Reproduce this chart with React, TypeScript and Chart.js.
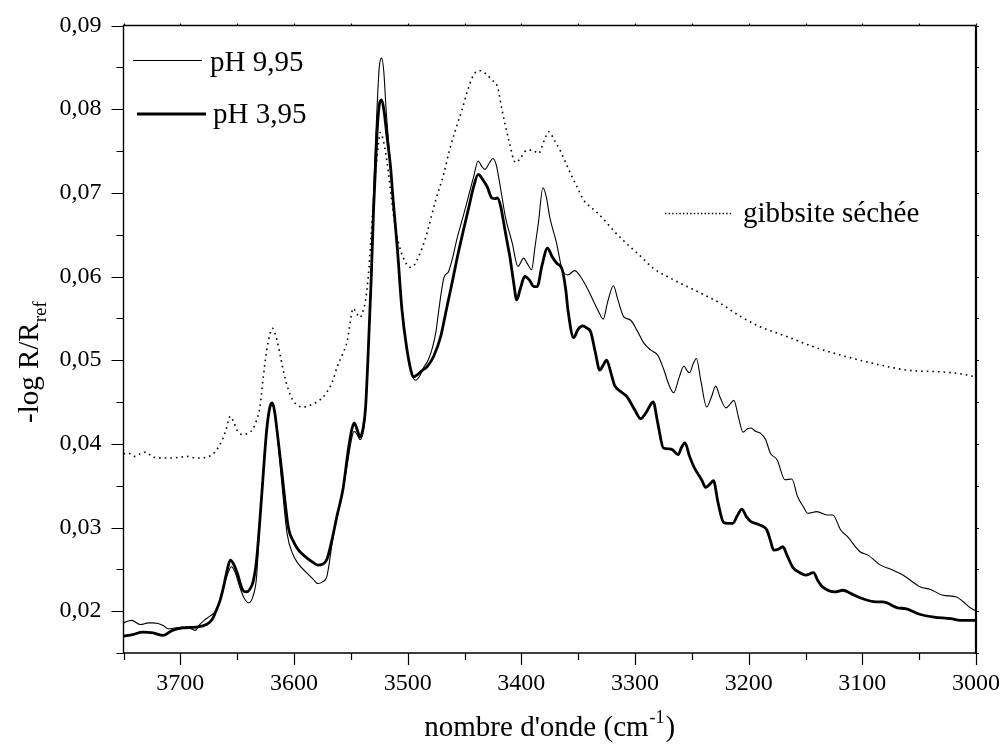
import React, { useEffect, useRef } from "react";
import { Chart, registerables } from "chart.js";

Chart.register(...registerables);

// ---------- data ----------
const thinWn = [3750, 3743, 3735, 3728, 3724, 3715, 3711, 3704, 3698, 3692, 3687, 3683, 3678, 3674, 3668, 3662, 3658, 3655, 3652, 3648, 3644, 3640, 3636, 3633, 3630, 3627, 3624, 3621, 3619, 3617, 3615, 3611, 3606, 3601, 3597, 3589, 3583, 3579, 3575, 3571, 3566, 3562, 3557, 3552, 3549, 3547, 3544, 3542, 3539, 3537, 3535, 3532, 3530, 3527, 3525, 3523, 3521, 3519, 3517, 3513, 3509, 3505, 3501, 3497, 3493, 3489, 3486, 3482, 3478, 3475, 3473, 3470, 3468, 3464, 3460, 3457, 3452, 3448, 3442, 3438, 3435, 3432, 3428, 3425, 3422, 3420, 3417, 3414, 3408, 3403, 3398, 3395, 3391, 3388, 3385, 3381, 3378, 3375, 3369, 3364, 3359, 3353, 3348, 3342, 3337, 3332, 3328, 3324, 3319, 3315, 3310, 3304, 3298, 3292, 3286, 3280, 3275, 3270, 3266, 3261, 3257, 3254, 3252, 3249, 3246, 3242, 3237, 3233, 3229, 3225, 3220, 3216, 3213, 3209, 3205, 3201, 3198, 3194, 3190, 3185, 3181, 3175, 3168, 3162, 3157, 3152, 3148, 3140, 3131, 3126, 3119, 3113, 3102, 3095, 3084, 3073, 3064, 3049, 3040, 3029, 3017, 3011, 3005, 3000];
const thinVal = [0.0186, 0.0189, 0.0184, 0.0186, 0.0186, 0.0183, 0.0179, 0.018, 0.0181, 0.018, 0.0177, 0.0184, 0.019, 0.0194, 0.0202, 0.0228, 0.0246, 0.0253, 0.0247, 0.023, 0.0216, 0.021, 0.0218, 0.024, 0.031, 0.037, 0.0417, 0.0443, 0.0447, 0.0437, 0.0415, 0.0357, 0.0292, 0.0268, 0.0258, 0.0246, 0.0238, 0.0233, 0.0235, 0.0242, 0.0285, 0.0315, 0.0345, 0.0385, 0.0408, 0.0415, 0.041, 0.0405, 0.0415, 0.044, 0.05, 0.06, 0.07, 0.08, 0.085, 0.0861, 0.0845, 0.08, 0.0765, 0.0695, 0.0635, 0.0562, 0.0516, 0.0486, 0.0476, 0.0482, 0.0491, 0.05, 0.0516, 0.0535, 0.0556, 0.0585, 0.0599, 0.0606, 0.0625, 0.0643, 0.0668, 0.0688, 0.0719, 0.0738, 0.0732, 0.0728, 0.0736, 0.0741, 0.0733, 0.0719, 0.0695, 0.0671, 0.064, 0.0612, 0.0622, 0.0616, 0.0608, 0.0635, 0.0664, 0.0706, 0.0695, 0.0671, 0.064, 0.0608, 0.0602, 0.0607, 0.06, 0.0586, 0.0572, 0.0558, 0.0549, 0.057, 0.0589, 0.0572, 0.0552, 0.0548, 0.0535, 0.052, 0.0512, 0.0506, 0.049, 0.047, 0.0461, 0.048, 0.0493, 0.0487, 0.0485, 0.0495, 0.0502, 0.0475, 0.0444, 0.0455, 0.0469, 0.0455, 0.0443, 0.0448, 0.0452, 0.0432, 0.0414, 0.0418, 0.0419, 0.0415, 0.0413, 0.0405, 0.0389, 0.0381, 0.0357, 0.0358, 0.0337, 0.0325, 0.0317, 0.0319, 0.0315, 0.0315, 0.0297, 0.0289, 0.0271, 0.0267, 0.0255, 0.0249, 0.0243, 0.0229, 0.0226, 0.0219, 0.0217, 0.0211, 0.0204, 0.02];

const thickWn = [3750, 3742, 3733, 3724, 3715, 3707, 3698, 3686, 3677, 3672, 3669, 3665, 3662, 3659, 3656, 3653, 3650, 3647, 3645, 3642, 3639, 3636, 3633, 3630, 3627, 3624, 3621, 3619, 3617, 3614, 3611, 3609, 3605, 3600, 3596, 3589, 3583, 3579, 3575, 3571, 3566, 3562, 3557, 3552, 3549, 3547, 3544, 3542, 3539, 3537, 3535, 3532, 3530, 3527, 3525, 3523, 3521, 3518, 3515, 3513, 3509, 3505, 3501, 3497, 3495, 3491, 3487, 3483, 3477, 3471, 3466, 3461, 3456, 3451, 3446, 3442, 3438, 3434, 3430, 3426, 3423, 3421, 3418, 3416, 3413, 3410, 3407, 3404, 3401, 3397, 3393, 3389, 3386, 3382, 3377, 3373, 3369, 3364, 3361, 3359, 3354, 3350, 3346, 3342, 3339, 3335, 3331, 3328, 3325, 3321, 3318, 3312, 3307, 3300, 3295, 3290, 3284, 3280, 3275, 3270, 3267, 3262, 3259, 3256, 3252, 3248, 3245, 3241, 3238, 3234, 3231, 3227, 3222, 3218, 3214, 3210, 3206, 3202, 3198, 3192, 3187, 3184, 3181, 3178, 3174, 3170, 3166, 3161, 3155, 3150, 3143, 3139, 3135, 3124, 3117, 3110, 3102, 3088, 3082, 3069, 3062, 3049, 3037, 3022, 3014, 3000];
const thickVal = [0.017, 0.0172, 0.0175, 0.0174, 0.0171, 0.0177, 0.018, 0.0181, 0.0184, 0.019, 0.0199, 0.0213, 0.0229, 0.0248, 0.0261, 0.0256, 0.0246, 0.0232, 0.0225, 0.0223, 0.0226, 0.0235, 0.026, 0.0309, 0.0365, 0.0417, 0.0445, 0.0449, 0.0438, 0.0405, 0.037, 0.0345, 0.03, 0.0282, 0.0273, 0.0264, 0.0258, 0.0255, 0.0256, 0.0262, 0.0289, 0.0315, 0.0345, 0.0395, 0.0418, 0.0425, 0.0415, 0.0408, 0.042, 0.0444, 0.05, 0.06, 0.068, 0.077, 0.0805, 0.0811, 0.08, 0.0765, 0.073, 0.0695, 0.0632, 0.056, 0.0516, 0.0487, 0.048, 0.0483, 0.0488, 0.0492, 0.0505, 0.0528, 0.056, 0.0592, 0.0625, 0.0655, 0.0684, 0.0707, 0.0722, 0.0716, 0.0707, 0.0694, 0.0693, 0.0694, 0.0683, 0.0668, 0.0645, 0.0623, 0.0595, 0.0572, 0.0585, 0.06, 0.0596, 0.0588, 0.0588, 0.0612, 0.0634, 0.0624, 0.0616, 0.0608, 0.0585, 0.056, 0.0527, 0.0537, 0.0541, 0.0538, 0.0534, 0.051, 0.0488, 0.0494, 0.05, 0.0484, 0.047, 0.0462, 0.0456, 0.044, 0.043, 0.0438, 0.045, 0.0425, 0.0395, 0.0394, 0.0393, 0.0387, 0.0396, 0.0401, 0.0385, 0.0372, 0.0365, 0.0356, 0.0348, 0.0352, 0.0356, 0.033, 0.0306, 0.0305, 0.0305, 0.0314, 0.0322, 0.0313, 0.0307, 0.0304, 0.0301, 0.0297, 0.0285, 0.0273, 0.0274, 0.0277, 0.0266, 0.0252, 0.0246, 0.0243, 0.0246, 0.0236, 0.0229, 0.0223, 0.0225, 0.0221, 0.0216, 0.0211, 0.0211, 0.0204, 0.0203, 0.0196, 0.0193, 0.0191, 0.0189, 0.0189];

const dryWn = [3750, 3746, 3740, 3734, 3730, 3724, 3709, 3700, 3694, 3686, 3677, 3672, 3668, 3663, 3660, 3656, 3653, 3650, 3645, 3640, 3636, 3633, 3630, 3627, 3624, 3621, 3619, 3617, 3615, 3612, 3609, 3605, 3601, 3597, 3592, 3586, 3580, 3575, 3571, 3566, 3562, 3557, 3553, 3550, 3548, 3545, 3542, 3539, 3537, 3534, 3532, 3529, 3526, 3524, 3521, 3518, 3514, 3511, 3508, 3504, 3498, 3494, 3491, 3487, 3483, 3476, 3468, 3463, 3457, 3452, 3448, 3442, 3436, 3431, 3426, 3421, 3417, 3411, 3405, 3401, 3395, 3390, 3385, 3380, 3376, 3371, 3366, 3357, 3351, 3345, 3339, 3333, 3326, 3319, 3311, 3304, 3298, 3284, 3266, 3245, 3225, 3207, 3190, 3166, 3143, 3119, 3090, 3060, 3031, 3015, 3000];
const dryVal = [0.0388, 0.0389, 0.0385, 0.0389, 0.039, 0.0384, 0.0383, 0.0384, 0.0385, 0.0383, 0.0384, 0.0387, 0.0393, 0.0405, 0.0416, 0.0433, 0.0426, 0.0416, 0.0411, 0.0413, 0.0418, 0.0428, 0.0444, 0.048, 0.0512, 0.0532, 0.0538, 0.0533, 0.0524, 0.0505, 0.0485, 0.0465, 0.0452, 0.0446, 0.0444, 0.0446, 0.045, 0.0455, 0.0462, 0.0475, 0.0492, 0.0508, 0.0524, 0.055, 0.0562, 0.0556, 0.0551, 0.056, 0.0572, 0.0611, 0.0652, 0.071, 0.0755, 0.0772, 0.076, 0.0735, 0.069, 0.066, 0.064, 0.0623, 0.0611, 0.0614, 0.0622, 0.0635, 0.0652, 0.0688, 0.0724, 0.0752, 0.0779, 0.08, 0.0819, 0.0841, 0.0846, 0.0842, 0.0835, 0.0827, 0.0799, 0.0763, 0.0736, 0.0741, 0.0751, 0.0751, 0.0747, 0.0762, 0.0773, 0.0763, 0.0751, 0.0724, 0.0707, 0.0691, 0.0683, 0.0676, 0.0666, 0.0655, 0.0644, 0.0635, 0.0628, 0.061, 0.0596, 0.0582, 0.0568, 0.0552, 0.054, 0.0528, 0.0516, 0.0506, 0.0496, 0.0488, 0.0486, 0.0484, 0.048];

const seriesLabels = ["pH 9,95", "pH 3,95", "gibbsite séchée"];
const xTitleMain = "nombre d'onde (cm";
const xTitleSup = "-1";
const xTitleEnd = ")";
const yTitleMain = "-log R/R";
const yTitleSub = "ref";

const X_MIN = 3000;
const X_MAX = 3750;
const Y_MIN = 0.015;
const Y_MAX = 0.09;

const FONT = "'Liberation Serif', 'Times New Roman', serif";

function toPoints(xs: number[], ys: number[]) {
  return xs.map((x, i) => ({ x, y: ys[i] }));
}

function zeroPadding(s: any) {
  s.paddingTop = 0;
  s.paddingBottom = 0;
  s.paddingLeft = 0;
  s.paddingRight = 0;
}

const decorPlugin = {
  id: "decor",
  afterDraw(chart: any) {
    const ctx = chart.ctx as CanvasRenderingContext2D;
    const a = chart.chartArea;
    const xs = chart.scales.x;
    const ys = chart.scales.y;
    ctx.save();
    ctx.strokeStyle = "#000";
    ctx.fillStyle = "#000";

    // frame
    ctx.lineWidth = 1.4;
    ctx.beginPath();
    ctx.moveTo(a.right, a.top);
    ctx.lineTo(a.left, a.top);
    ctx.lineTo(a.left, a.bottom);
    ctx.lineTo(a.right, a.bottom);
    ctx.stroke();
    ctx.lineWidth = 2.2;
    ctx.beginPath();
    ctx.moveTo(a.right, a.top);
    ctx.lineTo(a.right, a.bottom + 1);
    ctx.stroke();

    // x ticks (every 50)
    ctx.lineWidth = 1.2;
    for (let v = X_MIN; v <= X_MAX; v += 50) {
      const px = Math.round(xs.getPixelForValue(v)) + 0.5;
      const major = v % 100 === 0;
      ctx.beginPath();
      ctx.moveTo(px, a.bottom);
      ctx.lineTo(px, a.bottom + (major ? 12 : 7));
      ctx.moveTo(px, a.top);
      ctx.lineTo(px, a.top - 2);
      ctx.stroke();
    }
    // y ticks (every 0.005)
    for (let k = 0; k <= 15; k++) {
      const v = Y_MIN + k * 0.005;
      const py = Math.round(ys.getPixelForValue(v)) + 0.5;
      const major = k % 2 === 1;
      ctx.beginPath();
      ctx.moveTo(a.left, py);
      ctx.lineTo(a.left - (major ? 12 : 7), py);
      ctx.moveTo(a.right, py);
      ctx.lineTo(a.right + 3, py);
      ctx.stroke();
    }

    // legend
    ctx.font = `29px ${FONT}`;
    ctx.textBaseline = "alphabetic";
    ctx.textAlign = "left";
    ctx.lineWidth = 1.1;
    ctx.beginPath();
    ctx.moveTo(133, 60.5);
    ctx.lineTo(202, 60.5);
    ctx.stroke();
    ctx.fillText(seriesLabels[0], 210, 71);

    ctx.lineWidth = 2.8;
    ctx.beginPath();
    ctx.moveTo(137, 114);
    ctx.lineTo(206, 114);
    ctx.stroke();
    ctx.fillText(seriesLabels[1], 213, 123);

    ctx.lineWidth = 1.4;
    ctx.setLineDash([1.4, 2.2]);
    ctx.beginPath();
    ctx.moveTo(665, 213.5);
    ctx.lineTo(731, 213.5);
    ctx.stroke();
    ctx.setLineDash([]);
    ctx.fillText(seriesLabels[2], 743, 222);

    // x title
    const mainF = `29px ${FONT}`;
    const supF = `18px ${FONT}`;
    ctx.font = mainF;
    const w1 = ctx.measureText(xTitleMain).width;
    const w3 = ctx.measureText(xTitleEnd).width;
    ctx.font = supF;
    const w2 = ctx.measureText(xTitleSup).width;
    const total = w1 + w2 + w3 + 2;
    const cx = (a.left + a.right) / 2;
    const x0 = cx - total / 2;
    const base = 736;
    ctx.font = mainF;
    ctx.fillText(xTitleMain, x0, base);
    ctx.font = supF;
    ctx.fillText(xTitleSup, x0 + w1 + 1, base - 13);
    ctx.font = mainF;
    ctx.fillText(xTitleEnd, x0 + w1 + w2 + 2, base);

    // y title (rotated)
    ctx.save();
    ctx.translate(38, 423);
    ctx.rotate(-Math.PI / 2);
    ctx.font = mainF;
    ctx.fillText(yTitleMain, 0, 0);
    const wy = ctx.measureText(yTitleMain).width;
    ctx.font = `19px ${FONT}`;
    ctx.fillText(yTitleSub, wy, 8);
    ctx.restore();

    ctx.restore();
  },
};

export default function App() {
  const ref = useRef<HTMLCanvasElement | null>(null);

  useEffect(() => {
    if (!ref.current) return;
    const chart = new Chart(ref.current, {
      type: "line",
      data: {
        datasets: [
          {
            label: seriesLabels[2],
            data: toPoints(dryWn, dryVal),
            borderColor: "#000",
            borderWidth: 1.6,
            borderDash: [1.6, 4],
            pointRadius: 0,
            cubicInterpolationMode: "monotone",
            fill: false,
          },
          {
            label: seriesLabels[0],
            data: toPoints(thinWn, thinVal),
            borderColor: "#000",
            borderWidth: 1.1,
            pointRadius: 0,
            cubicInterpolationMode: "monotone",
            fill: false,
          },
          {
            label: seriesLabels[1],
            data: toPoints(thickWn, thickVal),
            borderColor: "#000",
            borderWidth: 2.8,
            pointRadius: 0,
            cubicInterpolationMode: "monotone",
            fill: false,
          },
        ],
      },
      options: {
        animation: false,
        responsive: false,
        devicePixelRatio: 1,
        events: [],
        layout: { padding: { top: 25.5, right: 28, left: 0, bottom: 0 } },
        plugins: {
          legend: { display: false },
          tooltip: { enabled: false },
          title: { display: false },
        },
        scales: {
          x: {
            type: "linear",
            reverse: true,
            min: X_MIN,
            max: X_MAX,
            grid: { display: false, drawTicks: false },
            border: { display: false },
            ticks: {
              stepSize: 50,
              autoSkip: false,
              maxRotation: 0,
              padding: 16,
              color: "#000",
              font: { family: FONT, size: 24 },
              callback: (v: any) => (Number(v) % 100 === 0 ? String(v) : ""),
            },
            afterFit: (s: any) => {
              s.height = 101;
              zeroPadding(s);
            },
          },
          y: {
            type: "linear",
            min: Y_MIN,
            max: Y_MAX,
            grid: { display: false, drawTicks: false },
            border: { display: false },
            ticks: {
              stepSize: 0.005,
              autoSkip: false,
              padding: 22,
              color: "#000",
              font: { family: FONT, size: 24 },
              callback: (v: any) => {
                const n = Number(v) * 100;
                return Math.abs(n - Math.round(n)) < 1e-6 ? Number(v).toFixed(2).replace(".", ",") : "";
              },
            },
            afterFit: (s: any) => {
              s.width = 123.5;
              zeroPadding(s);
            },
          },
        },
      },
      plugins: [decorPlugin],
    });
    return () => chart.destroy();
  }, []);

  return (
    <div style={{ position: "absolute", left: 0, top: 0, width: 1004, height: 754, background: "#fff" }}>
      <canvas ref={ref} width={1004} height={754} style={{ display: "block", width: 1004, height: 754 }} />
    </div>
  );
}
